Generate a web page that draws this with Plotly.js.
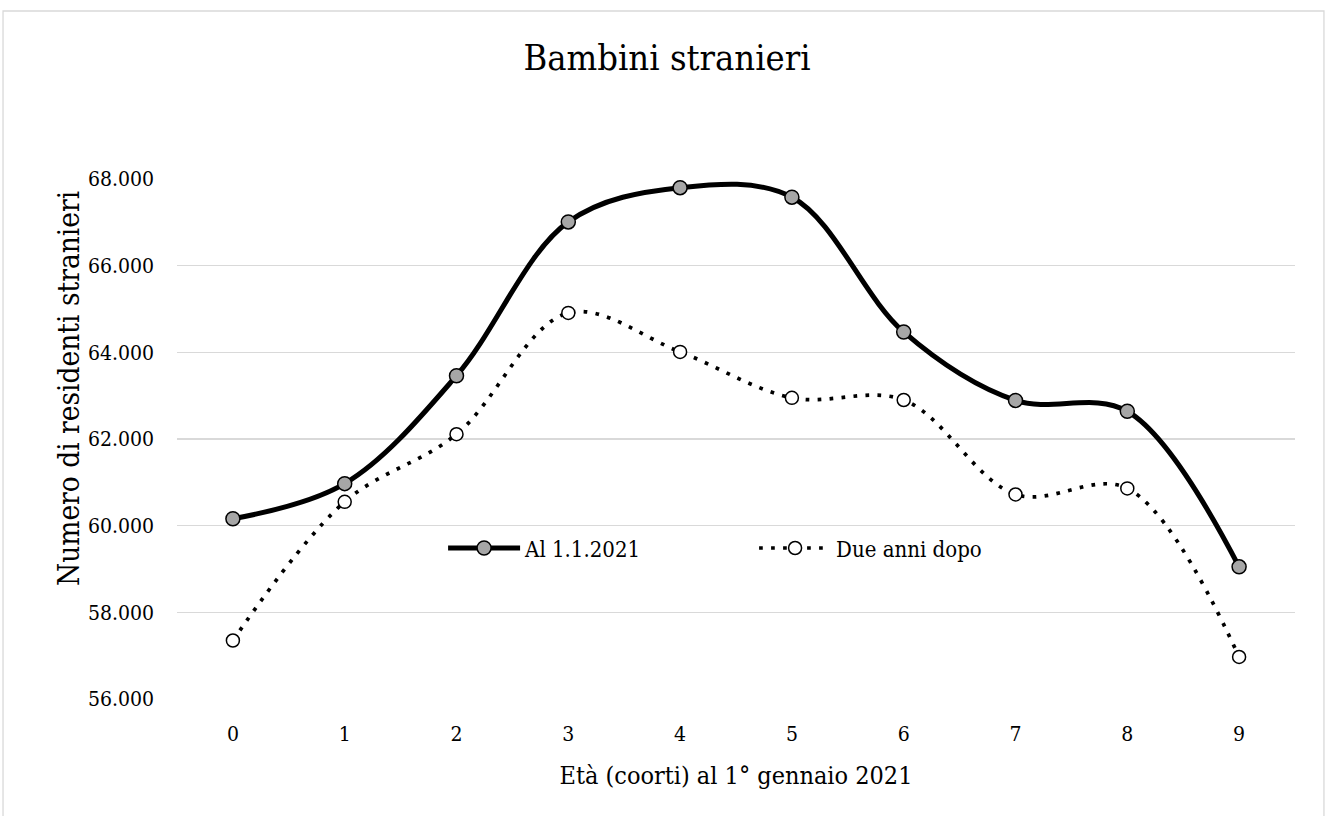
<!DOCTYPE html>
<html>
<head>
<meta charset="utf-8">
<script src="https://cdn.plot.ly/plotly-3.0.1.min.js"></script>
<style>
html, body { margin: 0; padding: 0; background: #ffffff; }
#chart { width: 1325px; height: 816px; }
</style>
</head>
<body>
<div id="chart"></div>
<script>
// Data
const categories = ['0', '1', '2', '3', '4', '5', '6', '7', '8', '9'];
const seriesNames = ['Al 1.1.2021', 'Due anni dopo'];
const al2021 = [60160, 60970, 63460, 67010, 67800, 67580, 64470, 62890, 62640, 59050];
const dueAnniDopo = [57350, 60550, 62110, 64910, 64010, 62950, 62900, 60720, 60860, 56970];
const yTickVals = [56000, 58000, 60000, 62000, 64000, 66000, 68000];
const yTickText = ['56.000', '58.000', '60.000', '62.000', '64.000', '66.000', '68.000'];
const chartTitle = 'Bambini stranieri';
const xTitle = 'Età (coorti) al 1° gennaio 2021';
const yTitle = 'Numero di residenti stranieri';

const FONT = '"DejaVu Serif Condensed", "DejaVu Serif", "Liberation Serif", serif';

const traces = [
  {
    x: categories, y: al2021, name: seriesNames[0], type: 'scatter', mode: 'lines+markers',
    line: { color: '#000000', width: 5, shape: 'spline', smoothing: 1 },
    marker: { symbol: 'circle', size: 14, color: '#a6a6a6', line: { color: '#000000', width: 1.5 } }
  },
  {
    x: categories, y: dueAnniDopo, name: seriesNames[1], type: 'scatter', mode: 'lines+markers',
    line: { color: '#000000', width: 3.7, shape: 'spline', smoothing: 1, dash: '3.7px,8.3px' },
    marker: { symbol: 'circle', size: 13, color: '#ffffff', line: { color: '#000000', width: 1.5 } }
  }
];

const layout = {
  width: 1325, height: 816,
  margin: { l: 177, r: 30, t: 179, b: 117 },
  paper_bgcolor: '#ffffff', plot_bgcolor: '#ffffff',
  font: { family: FONT, size: 21, color: '#000000' },
  title: { text: chartTitle, font: { family: FONT, size: 36, color: '#000000' },
           x: 0.5034, xanchor: 'center', y: 0.930, yanchor: 'middle', xref: 'container' },
  xaxis: {
    type: 'category', range: [-0.5, 9.5],
    showgrid: false, zeroline: false, showline: false, ticks: '',
    tickfont: { family: FONT, size: 21 },
    ticklabelstandoff: 20,
    title: { text: xTitle, font: { family: FONT, size: 25 }, standoff: 21 }
  },
  yaxis: {
    range: [56000, 68000], tickvals: yTickVals, ticktext: yTickText,
    showgrid: true, gridcolor: '#d9d9d9', gridwidth: 1.3,
    zeroline: false, showline: false, ticks: '',
    tickfont: { family: FONT, size: 21 },
    ticklabelstandoff: 22
  },
  annotations: [
    { text: yTitle, xref: 'paper', yref: 'paper', x: -0.0966, y: 0.596,
      xanchor: 'center', yanchor: 'middle', textangle: -90, showarrow: false,
      font: { family: FONT, size: 29.5, color: '#000000' } }
  ],
  showlegend: true,
  legend: {
    orientation: 'h', x: 0.238, xanchor: 'left', y: 0.29, yanchor: 'middle',
    bgcolor: 'rgba(0,0,0,0)', font: { family: FONT, size: 22 },
    itemwidth: 72, entrywidth: 224, entrywidthmode: 'pixels', traceorder: 'normal'
  },
  shapes: [
    { type: 'rect', xref: 'paper', yref: 'paper', x0: -0.1556, x1: 1.0259, y0: -0.24, y1: 1.3231,
      line: { color: '#d9d9d9', width: 1.3 }, fillcolor: 'rgba(0,0,0,0)', layer: 'below' }
  ]
};

Plotly.newPlot('chart', traces, layout, { displayModeBar: false, staticPlot: true });
</script>
</body>
</html>
